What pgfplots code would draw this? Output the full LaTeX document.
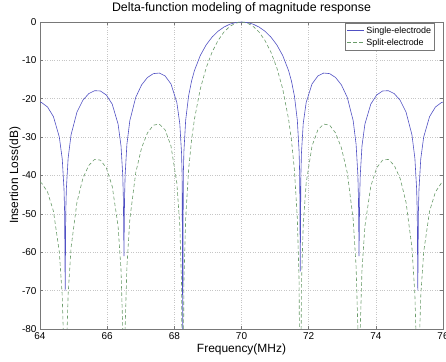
\documentclass[border=0pt]{standalone}
\usepackage{pgfplots}
\pgfplotsset{compat=1.18}
\usepackage{fontspec}
\setmainfont{Liberation Sans}
\definecolor{mblue}{RGB}{80,80,195}
\definecolor{mgreen}{RGB}{105,155,105}
\definecolor{frame}{RGB}{120,120,120}
\begin{document}
\begin{tikzpicture}
\begin{axis}[
  scale only axis, width=403bp, height=307bp,
  xmin=64, xmax=76, ymin=-80, ymax=0,
  xtick={64,66,68,70,72,74,76},
  ytick={-80,-70,-60,-50,-40,-30,-20,-10,0},
  grid=major,
  major grid style={dotted, gray!45, line width=0.5pt},
  tick align=inside,
  major tick length=3bp,
  axis line style={frame, line width=0.8pt},
  tick style={frame, line width=0.5pt},
  /pgf/number format/assume math mode=true,
  tick label style={font=\fontsize{10}{12}\selectfont},
  title={Delta-function modeling of magnitude response},
  title style={font=\fontsize{12.4}{14}\selectfont, at={(axis description cs:0.5,1)}, anchor=south, yshift=-2bp},
  xlabel={Frequency(MHz)},
  ylabel={Insertion Loss(dB)},
  label style={font=\fontsize{12}{14}\selectfont},
  xlabel style={at={(axis description cs:0.5,-0.065)}, anchor=center},
  ylabel style={at={(axis description cs:-0.062,0.5)}, anchor=center},
  legend style={at={(axis description cs:0.98,0.997)}, anchor=north east,
    font=\fontsize{9}{10.5}\selectfont, draw=frame, line width=0.5pt,
    inner sep=1.5pt, row sep=0pt},
  legend cell align=left,
]
\addplot[mblue, line width=0.6pt] table {
x y
64 -20.87
64.05 -21.01
64.225 -22.15
64.4 -24.66
64.575 -29.97
64.6625 -35.7
64.715 -43.6
64.7325 -49.6
64.75 -70
64.7675 -49.5
64.785 -43.5
64.8375 -35.5
64.925 -29.4
65.1 -23.50
65.275 -20.41
65.45 -18.68
65.625 -17.90
65.8 -17.98
65.975 -19.02
66.15 -21.4
66.325 -26.6
66.4125 -32.3
66.465 -40.1
66.4825 -46.1
66.5 -61
66.5175 -46.0
66.535 -39.9
66.5875 -31.9
66.675 -25.7
66.85 -19.66
67.025 -16.39
67.2 -14.46
67.375 -13.46
67.55 -13.30
67.725 -14.06
67.9 -16.14
68.075 -21.0
68.1625 -26.5
68.215 -34.2
68.2325 -40.1
68.25 -85
68.2675 -39.9
68.285 -33.8
68.3375 -25.61
68.425 -19.23
68.5125 -15.39
68.6 -12.62
68.775 -8.69
68.95 -5.94
69.125 -3.92
69.3 -2.42
69.475 -1.33
69.65 -0.58
69.825 -0.14
70 0
70.175 -0.14
70.35 -0.58
70.525 -1.33
70.7 -2.42
70.875 -3.92
71.05 -5.94
71.225 -8.69
71.4 -12.62
71.4875 -15.39
71.575 -19.23
71.6625 -25.61
71.715 -33.8
71.7325 -39.9
71.75 -65
71.7675 -40.1
71.785 -34.2
71.8375 -26.5
71.925 -21.0
72.1 -16.14
72.275 -14.06
72.45 -13.30
72.625 -13.46
72.8 -14.46
72.975 -16.39
73.15 -19.66
73.325 -25.7
73.4125 -31.9
73.465 -39.9
73.4825 -46.0
73.5 -61
73.5175 -46.1
73.535 -40.1
73.5875 -32.3
73.675 -26.6
73.85 -21.4
74.025 -19.02
74.2 -17.98
74.375 -17.90
74.55 -18.68
74.725 -20.41
74.9 -23.50
75.075 -29.4
75.1625 -35.5
75.215 -43.5
75.2325 -49.5
75.25 -70
75.2675 -49.6
75.285 -43.6
75.3375 -35.7
75.425 -29.97
75.6 -24.66
75.775 -22.15
75.95 -21.01
76 -20.87
};
\addlegendentry{Single-electrode}
\addplot[mgreen, line width=0.6pt, dash pattern=on 3.5bp off 2.5bp] table {
x y
64 -41.7
64.05 -42.0
64.225 -44.3
64.4 -49.3
64.575 -59.9
64.6625 -71.4
64.715 -87.2
64.75 -120
64.785 -87
64.8375 -71.0
64.925 -58.8
65.1 -47.0
65.275 -40.8
65.45 -37.4
65.625 -35.8
65.8 -36.0
65.975 -38.0
66.15 -42.8
66.325 -53.2
66.4125 -64.6
66.465 -80.2
66.5 -120
66.535 -79.8
66.5875 -63.8
66.675 -51.4
66.85 -39.3
67.025 -32.8
67.2 -28.9
67.375 -26.9
67.55 -26.6
67.725 -28.1
67.9 -32.3
68.075 -42.0
68.1625 -53.0
68.215 -68.4
68.25 -120
68.285 -67.6
68.3375 -51.2
68.425 -38.46
68.5125 -30.78
68.6 -25.24
68.775 -17.37
68.95 -11.88
69.125 -7.84
69.3 -4.84
69.475 -2.65
69.65 -1.16
69.825 -0.29
70 0
70.175 -0.29
70.35 -1.16
70.525 -2.65
70.7 -4.84
70.875 -7.84
71.05 -11.88
71.225 -17.37
71.4 -25.24
71.4875 -30.78
71.575 -38.46
71.6625 -51.2
71.715 -67.6
71.75 -120
71.785 -68.4
71.8375 -53.0
71.925 -42.0
72.1 -32.3
72.275 -28.1
72.45 -26.6
72.625 -26.9
72.8 -28.9
72.975 -32.8
73.15 -39.3
73.325 -51.4
73.4125 -63.8
73.465 -79.8
73.5 -120
73.535 -80.2
73.5875 -64.6
73.675 -53.2
73.85 -42.8
74.025 -38.0
74.2 -36.0
74.375 -35.8
74.55 -37.4
74.725 -40.8
74.9 -47.0
75.075 -58.8
75.1625 -71.0
75.215 -87
75.25 -120
75.285 -87.2
75.3375 -71.4
75.425 -59.9
75.6 -49.3
75.775 -44.3
75.95 -42.0
76 -41.7
};
\addlegendentry{Split-electrode}
\end{axis}
\pgfresetboundingbox
\path[use as bounding box] ([xshift=-40bp,yshift=-33bp]current axis.south west) rectangle ([xshift=3bp,yshift=22bp]current axis.north east);
\end{tikzpicture}
\end{document}
